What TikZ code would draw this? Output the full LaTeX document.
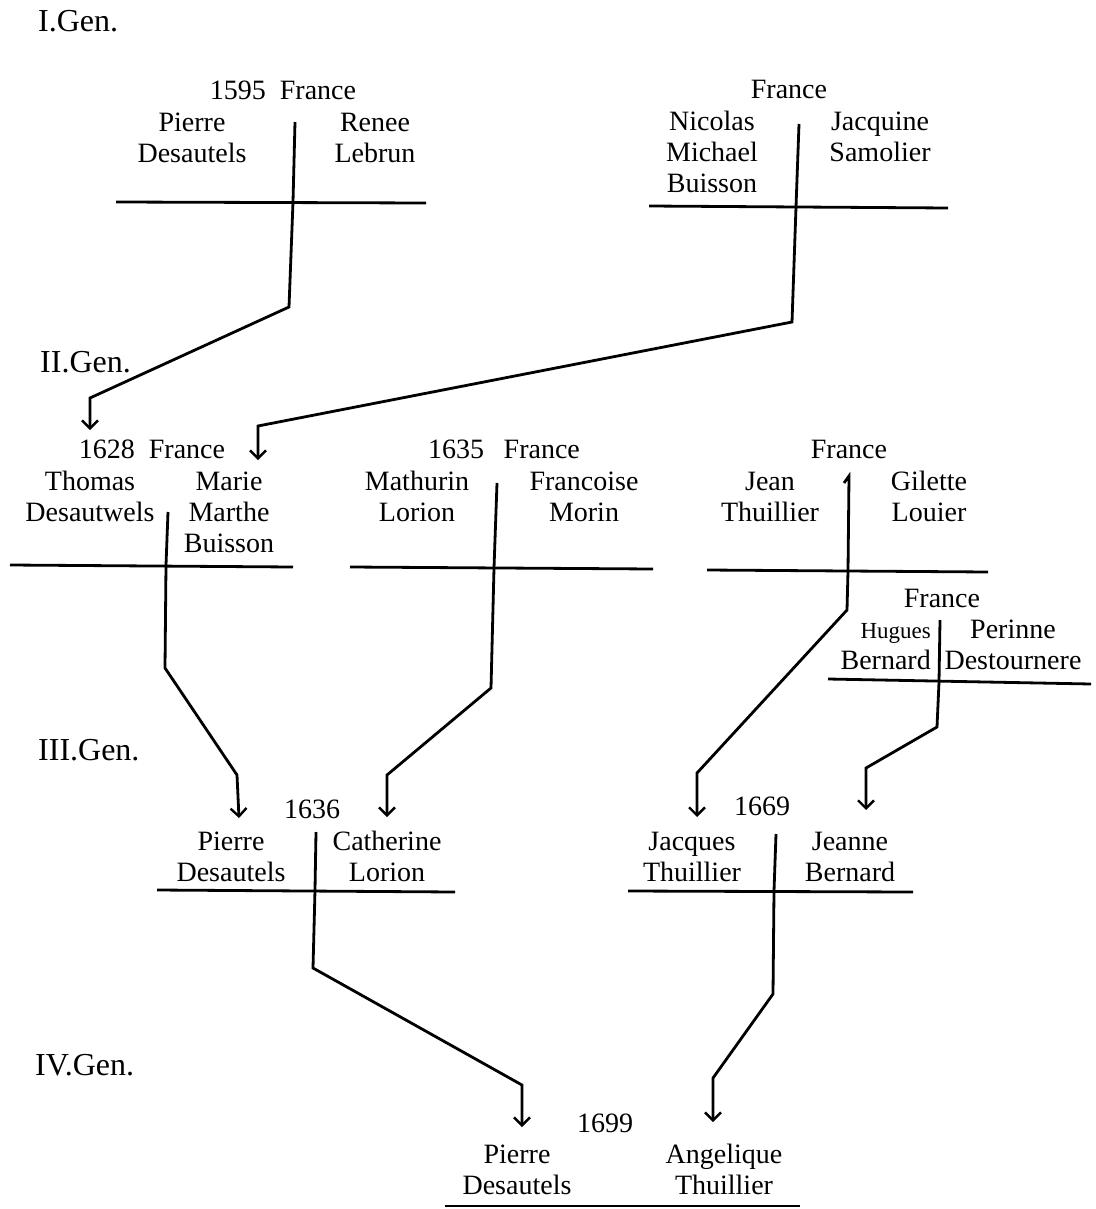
\documentclass[tikz,border=0pt]{standalone}
\usepackage{fontspec}
\setmainfont{Liberation Serif}
\usetikzlibrary{arrows.meta, calc}
\tikzstyle{Descent} = [
    line width=2.8pt,
    -{Straight Barb[length=8pt, width=16pt, line width=2.4pt]}
]
\tikzstyle{Bar} = [line width=2.8pt]

\begin{document}
\begin{tikzpicture}[
    x=1pt, y=-1pt,
    person/.style={
        align=center,
        anchor=base,
        inner sep=0pt,
        font=\fontsize{28}{31}\selectfont
        },
    gen/.style={
        anchor=base west,
        inner sep=0pt,
        font=\fontsize{32}{34}\selectfont
        }
]
\useasboundingbox (0,0) rectangle (1095,1209);

% generations
\node [gen] (gen1) at (38,32) {I.Gen.};
\node [gen] (gen2) at (40,372) {II.Gen.};
\node [gen] (gen3) at (38,760) {III.Gen.};
\node [gen] (gen4) at (35,1075) {IV.Gen.};

% I. Gen (node base = last line)
\node [person] (date1) at (283,100) {1595\enspace France};
\node [person] (pierre1) at (192,163) {Pierre\\Desautels};
\node [person] (renee) at (375,163) {Renee\\Lebrun};
\draw [Bar] (116,202) -- (426,203);

\node [person] (date2) at (789,99) {France};
\node [person] (nicolas) at (712,193) {Nicolas\\Michael\\Buisson};
\node [person] (jacquine) at (880,162) {Jacquine\\Samolier};
\draw [Bar] (649,206) -- (948,208);

% II. Gen
\node [person] (date3) at (152,458) {1628\enspace France};
\node [person] (thomas) at (90,521) {Thomas\\Desautwels};
\node [person] (marie) at (229,552) {Marie\\Marthe\\Buisson};
\draw [Bar] (10,565) -- (293,567);

\node [person] (date4) at (504,458) {1635\hspace{0.7em}France};
\node [person] (mathurin) at (417,521) {Mathurin\\Lorion};
\node [person] (francoise) at (584,521) {Francoise\\Morin};
\draw [Bar] (350,567) -- (653,569);

\node [person] (date5) at (849,458) {France};
\node [person] (jean) at (770,521) {Jean\\Thuillier};
\node [person] (gilette) at (929,521) {Gilette\\Louier};
\draw [Bar] (707,570) -- (988,572);

\node [person] (date6) at (942,607) {France};
\node [person, align=right, anchor=base east] (hugues) at (931,669)
    {{\fontsize{23}{31}\selectfont Hugues}\\Bernard};
\node [person] (perinne) at (1013,669) {Perinne\\Destournere};
\draw [Bar] (828,679) -- (1091,684);

% III. Gen
\node [person] (date7) at (312,818) {1636};
\node [person] (pierre2) at (231,881) {Pierre\\Desautels};
\node [person] (catherine) at (387,881) {Catherine\\Lorion};
\draw [Bar] (157,890) -- (455,892);

\node [person] (date8) at (762,815) {1669};
\node [person] (jacques) at (692,881) {Jacques\\Thuillier};
\node [person] (jeanne) at (850,881) {Jeanne\\Bernard};
\draw [Bar] (628,891) -- (913,892);

% IV. Gen
\node [person] (date9) at (605,1132) {1699};
\node [person] (pierre3) at (517,1194) {Pierre\\Desautels};
\node [person] (angelique) at (724,1194) {Angelique\\Thuillier};
\draw [Bar] (445,1206) -- (800,1206);

% couples and children
\coordinate (c1) at (295,122);
\coordinate (c2) at (799,124);
\coordinate (c3) at (168,512);
\coordinate (c4) at (497,483);
\coordinate (c5) at (849,476);
\coordinate (c6) at (940,620);
\coordinate (c7) at (316,832);
\coordinate (c8) at (776,834);

\coordinate (in-thomas) at (90,430);
\coordinate (in-marie) at (258,460);
\coordinate (in-pierre2) at (239,818);
\coordinate (in-catherine) at (387,817);
\coordinate (in-jacques) at (697,817);
\coordinate (in-jeanne) at (866,810);
\coordinate (in-pierre3) at (522,1127);
\coordinate (in-angelique) at (713,1122);

\draw[Descent] (c1) -- (293,202) -- (289,307) -- (90,398) -- (in-thomas);
\draw[Descent] (c2) -- (796,207) -- (792,322) -- (258,426) -- (in-marie);
\draw[Descent] (c3) -- (166,565) -- (165,668) -- (237,775) -- (in-pierre2);
\draw[Descent] (c4) -- (494,568) -- (491,688) -- (387,775) -- (in-catherine);
\draw[Descent] ($(c5)+(-5,7)$) -- (c5) -- (848,571) -- (847,610) -- (697,773) -- (in-jacques);
\draw[Descent] (c6) -- (939,682) -- (937,727) -- (866,768) -- (in-jeanne);
\draw[Descent] (c7) -- (315,890) -- (313,968) -- (522,1085) -- (in-pierre3);
\draw[Descent] (c8) -- (774,891) -- (773,994) -- (713,1078) -- (in-angelique);

\end{tikzpicture}
\end{document}
